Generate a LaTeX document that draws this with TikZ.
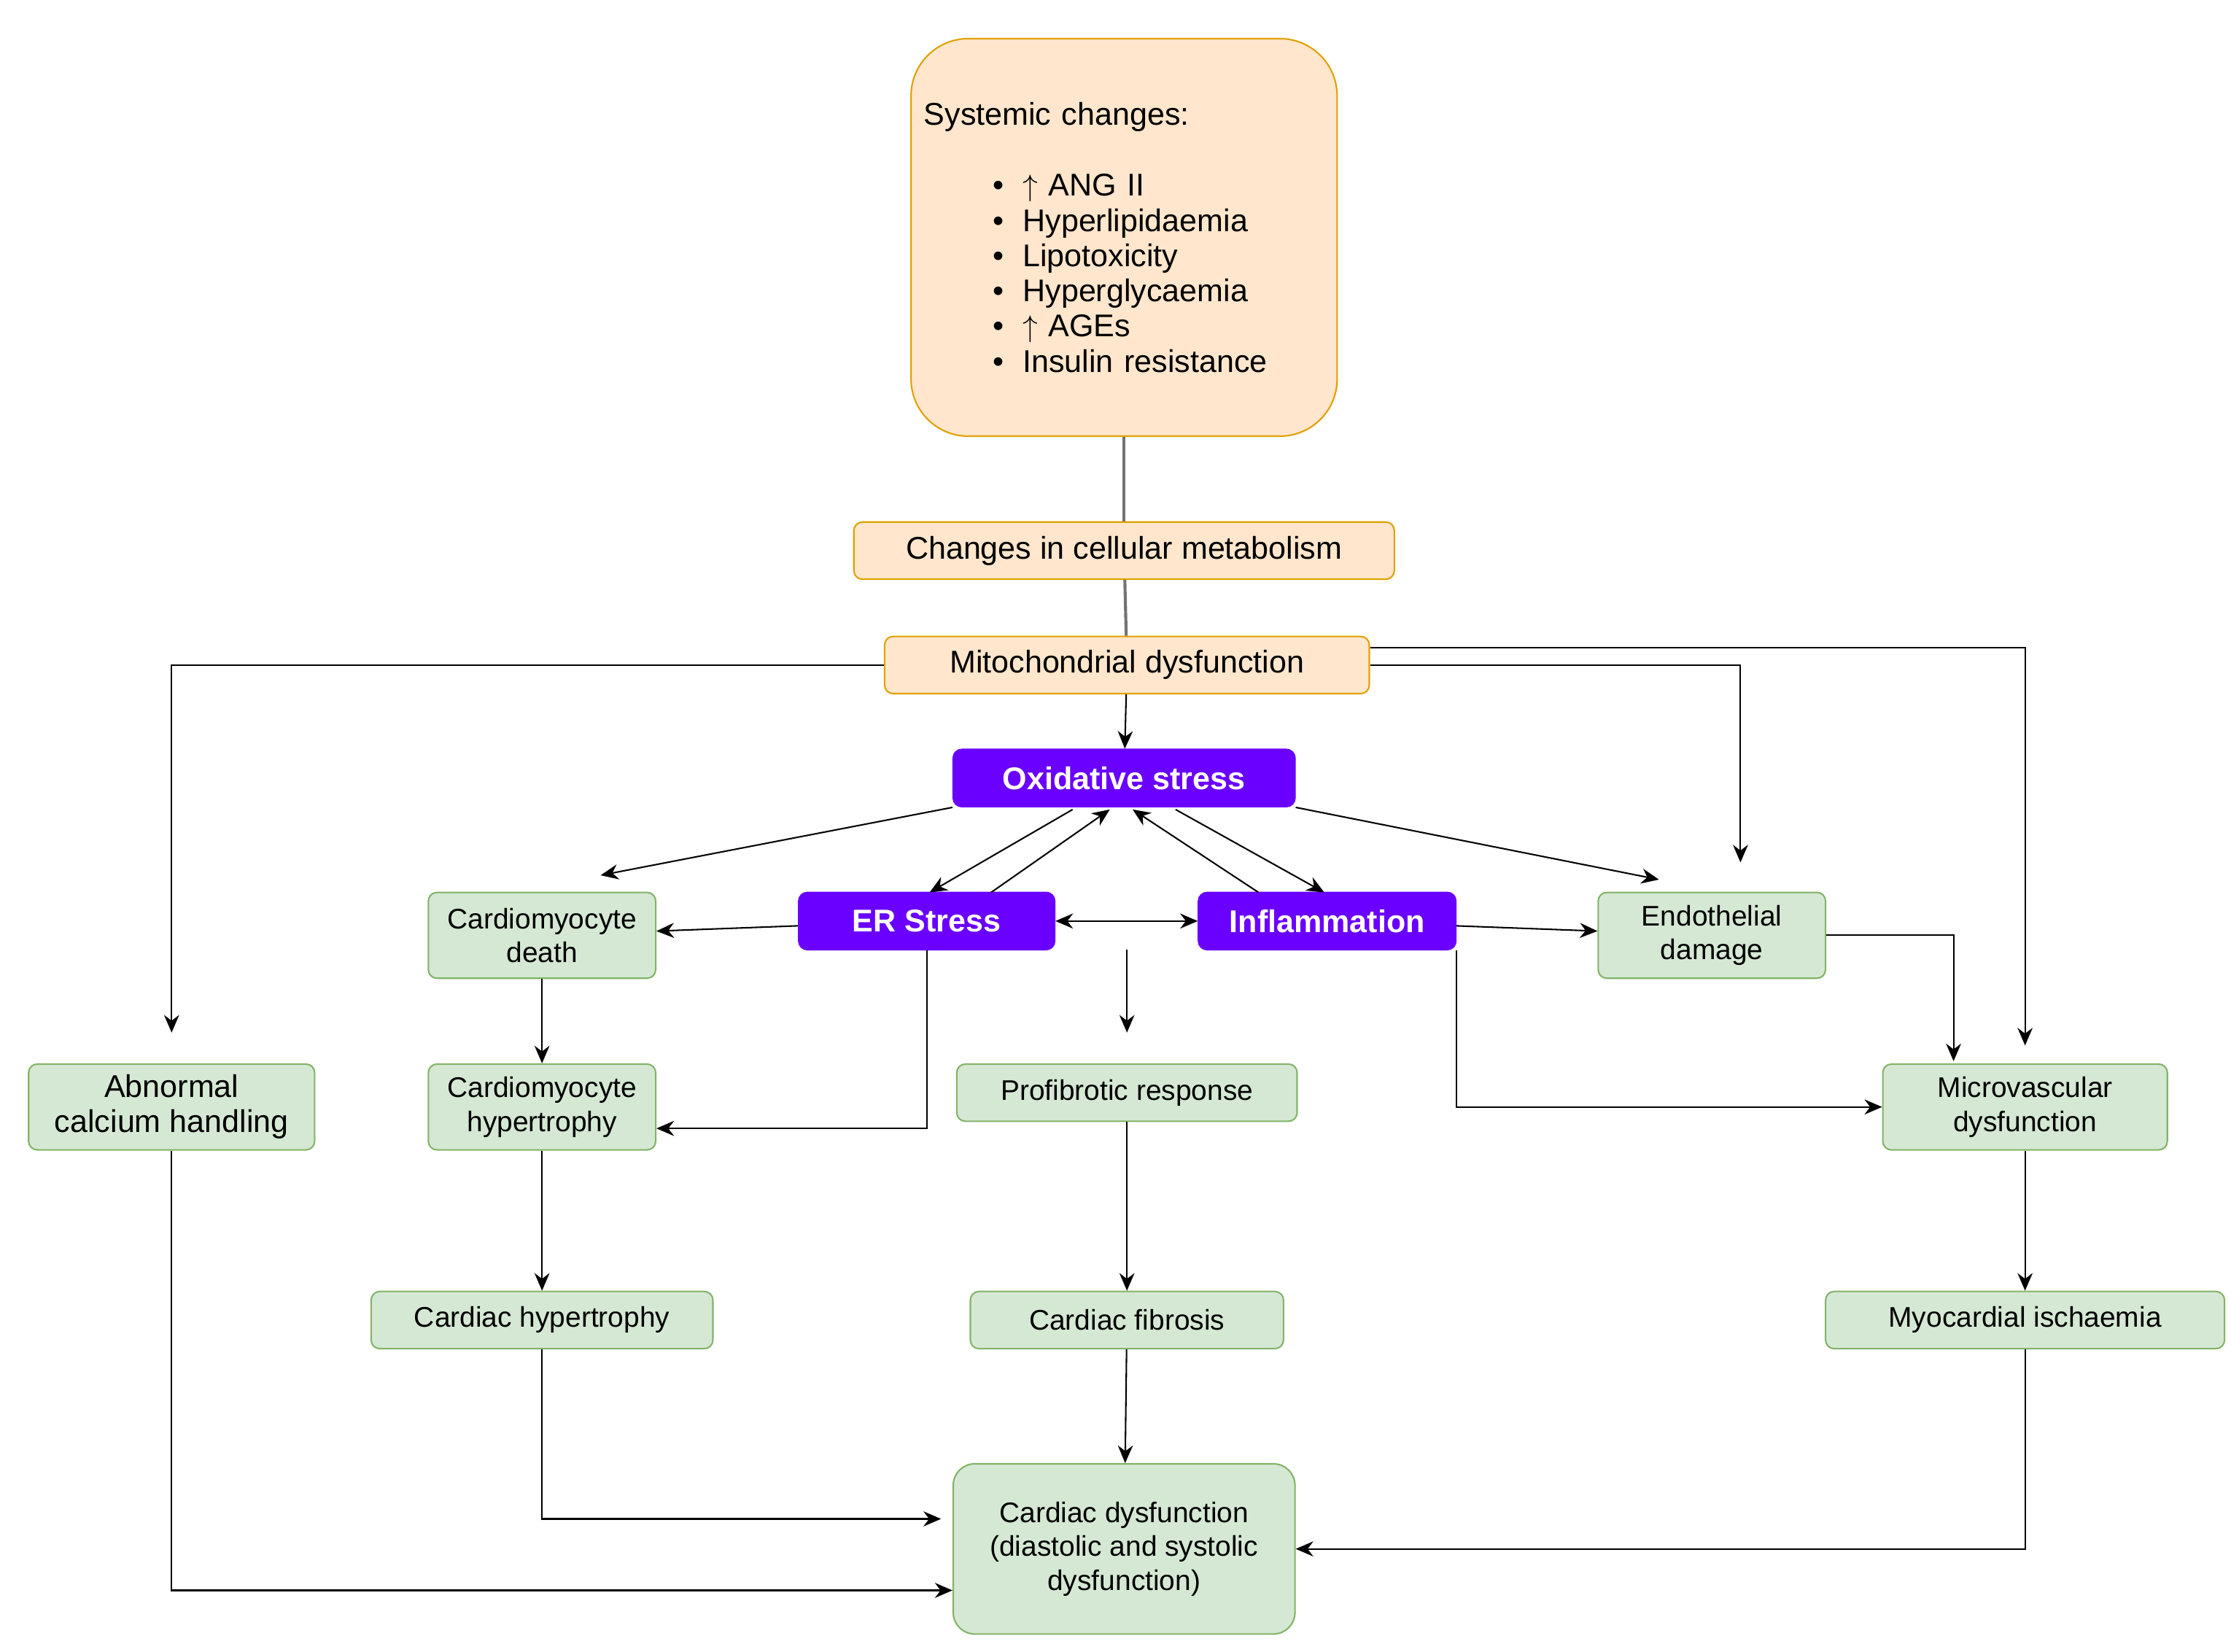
\documentclass[tikz,border=0pt]{standalone}
\usepackage{fontspec}
\setmainfont{Liberation Sans}
\usetikzlibrary{shapes.geometric, arrows.meta}
\definecolor{orfill}{HTML}{FFE6CC}
\definecolor{ordraw}{HTML}{E0A000}
\definecolor{grfill}{HTML}{D5E8D4}
\definecolor{grdraw}{HTML}{82B366}
\definecolor{purp}{HTML}{6A00FF}
\tikzstyle{box} = [rectangle, rounded corners=0.12cm, text centered, align=center, line width=0.6pt, inner sep=1pt]
\tikzstyle{orange} = [box, fill=orfill, draw=ordraw, font=\fontsize{12.5}{14}\selectfont]
\tikzstyle{green} = [box, fill=grfill, draw=grdraw, minimum width=3.18cm, minimum height=1.2cm, font=\fontsize{11.3}{13.5}\selectfont]
\tikzstyle{purple} = [box, fill=purp, draw=purp, text=white, minimum height=0.8cm, font=\fontsize{12.5}{14}\selectfont\bfseries]
\tikzstyle{arrow} = [line width=0.6pt, -{Stealth[length=7pt,width=6pt]}]
\tikzstyle{link} = [line width=1.2pt, gray!90!black]
\newcommand{\blt}[1]{\hspace*{2.2em}\textbullet\hspace{0.6em}#1}

\begin{document}
\begin{tikzpicture}[x=0.02cm, y=-0.02cm]
            \useasboundingbox (0,0) rectangle (1560,1155);
            % Top boxes
            \node[orange, rounded corners=0.8cm, minimum width=5.96cm, minimum height=5.56cm,
            text width=5.6cm, align=left] (sys) at (786,166) {Systemic changes:\\[0.5cm]
            \blt{$\uparrow$ ANG II}\\ \blt{Hyperlipidaemia}\\ \blt{Lipotoxicity}\\
            \blt{Hyperglycaemia}\\ \blt{$\uparrow$ AGEs}\\ \blt{Insulin resistance}};
            \node[orange, minimum width=7.56cm, minimum height=0.8cm] (cells) at (786,385) {Changes in cellular metabolism};
            \node[orange, minimum width=6.78cm, minimum height=0.8cm] (mito) at (788,465) {Mitochondrial dysfunction};
            % Purple boxes
            \node[purple, minimum width=4.78cm] (ox) at (786,544) {Oxidative stress};
            \node[purple, minimum width=3.58cm] (er) at (648,644) {ER Stress};
            \node[purple, minimum width=3.6cm] (infl) at (928,644) {Inflammation};
            % Green boxes
            \node[green] (death) at (379,654) {Cardiomyocyte\\death};
            \node[green] (endo) at (1197,654) {Endothelial\\damage};
            \node[green, minimum width=4cm, font=\fontsize{12.5}{14}\selectfont] (calc) at (120,774) {Abnormal\\calcium handling};
            \node[green] (chyp) at (379,774) {Cardiomyocyte\\hypertrophy};
            \node[green, minimum width=4.76cm, minimum height=0.8cm] (prof) at (788,764) {Profibrotic response};
            \node[green, minimum width=3.98cm] (micro) at (1416,774) {Microvascular\\dysfunction};
            \node[green, minimum width=4.78cm, minimum height=0.8cm] (hyp) at (379,923) {Cardiac hypertrophy};
            \node[green, minimum width=4.38cm, minimum height=0.8cm] (fib) at (788,923) {Cardiac fibrosis};
            \node[green, minimum width=5.58cm, minimum height=0.8cm] (isch) at (1416,923) {Myocardial ischaemia};
            \node[green, rounded corners=0.3cm, minimum width=4.78cm, minimum height=2.38cm] (cd) at (786,1083)
            {Cardiac dysfunction\\(diastolic and systolic\\dysfunction)};
            % Free ends
            \coordinate (calcin) at (120,722);
            \coordinate (endoin) at (1217,603);
            \coordinate (microin) at (1416,731);
            \coordinate (micro2) at (1366,742);
            \coordinate (deathin) at (420,612);
            \coordinate (endoin2) at (1160,615);
            \coordinate (mid) at (788,664);
            \coordinate (profin) at (788,722);
            % Links
            \draw[link] (sys) -- (cells);
            \draw[link] (cells) -- (mito);
            % Arrows
            \draw[arrow] (mito) -- (ox);
            \draw[arrow] (mito.west) -| (calcin);
            \draw[arrow] (mito.east) -| (endoin);
            \draw[arrow] ([yshift=0.24cm]mito.east) -| (microin);
            \draw[arrow] (ox.south west) -- (deathin);
            \draw[arrow] (ox.south east) -- (endoin2);
            \draw[arrow] (750,566) -- (650,624);
            \draw[arrow] (693,624) -- (776,566);
            \draw[arrow] (822,566) -- (926,624);
            \draw[arrow] (880,624) -- (792,566);
            \draw[arrow] (er) -- (death);
            \draw[arrow, {Stealth[length=7pt,width=6pt]}-{Stealth[length=7pt,width=6pt]}] (er) -- (infl);
            \draw[arrow] (mid) -- (profin);
            \draw[arrow] (infl) -- (endo);
            \draw[arrow] (endo.east) -| (micro2);
            \draw[arrow] (infl.south east) |- (micro.west);
            \draw[arrow] (er.south) |- ([yshift=-0.3cm]chyp.east);
            \draw[arrow] (death) -- (chyp);
            \draw[arrow] (chyp) -- (hyp);
            \draw[arrow] (prof) -- (fib);
            \draw[arrow] (fib) -- (cd);
            \draw[arrow] (micro) -- (isch);
            \draw[arrow] (hyp.south) |- ([xshift=-0.16cm, yshift=0.42cm]cd.west);
            \draw[arrow] (calc.south) |- ([yshift=-0.58cm]cd.west);
            \draw[arrow] (isch.south) |- (cd.east);
        \end{tikzpicture}
\end{document}
